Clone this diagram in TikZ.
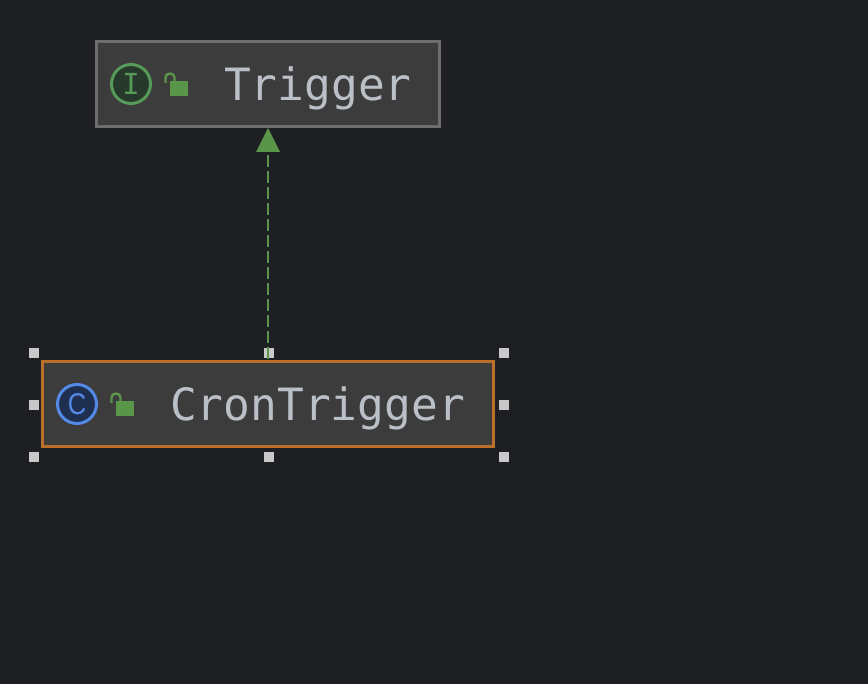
\documentclass[tikz,border=0pt]{standalone}
\usepackage{fontspec}
\setmonofont{DejaVu Sans Mono}
\setsansfont{Liberation Sans}
\usetikzlibrary{arrows.meta}
\definecolor{bgc}{HTML}{1E1F22}
\definecolor{boxc}{HTML}{3C3C3C}
\definecolor{greyb}{HTML}{6E6E6E}
\definecolor{orangeb}{HTML}{BC6F2D}
\definecolor{txt}{HTML}{BBBFC6}
\definecolor{grn}{HTML}{5A9649}
\definecolor{ifill}{HTML}{27392A}
\definecolor{ibord}{HTML}{559A58}
\definecolor{cfill}{HTML}{1F2F50}
\definecolor{cbord}{HTML}{548AE6}
\definecolor{handle}{HTML}{C8C8C8}
\tikzset{
  x=1pt,y=-1pt,
  classbox/.style={draw=greyb,fill=boxc,line width=3pt,inner sep=0pt,outer sep=0pt,minimum height=85pt,anchor=center},
  selbox/.style={classbox,draw=orangeb},
  label/.style={font=\ttfamily\fontsize{44.5pt}{44.5pt}\selectfont,text=txt,inner sep=0pt,anchor=base west},
  iconi/.style={circle,draw=ibord,fill=ifill,line width=3pt,minimum size=39pt,inner sep=0pt},
  iconc/.style={circle,draw=cbord,fill=cfill,line width=3pt,minimum size=39pt,inner sep=0pt},
  lockbody/.style={fill=grn,draw=none,minimum width=18pt,minimum height=15pt,inner sep=0pt},
  shackle/.style={draw=grn,line width=2.4pt},
  grip/.style={fill=handle,draw=none,minimum size=10pt,inner sep=0pt},
  realize/.style={draw=grn,line width=2pt,dash pattern=on 12pt off 4pt,shorten <=2.5pt,shorten >=1.5pt,
    -{Triangle[length=0.01pt,width=0.01pt,sep=3pt]Triangle[length=24pt,width=24pt,fill=grn,color=grn,line width=0pt]}},
}
\begin{document}
\begin{tikzpicture}
\useasboundingbox (0,0) rectangle (868,684);
\fill[bgc] (0,0) rectangle (868,684);
% handles
\node[grip] (h1) at (34,353) {};
\node[grip] (h2) at (269,353) {};
\node[grip] (h3) at (504,353) {};
\node[grip] (h4) at (34,405) {};
\node[grip] (h5) at (504,405) {};
\node[grip] (h6) at (34,457) {};
\node[grip] (h7) at (269,457) {};
\node[grip] (h8) at (504,457) {};
% boxes
\node[classbox,minimum width=343pt] (trigger) at (268,84) {};
\node[selbox,minimum width=451pt] (cron) at (268,404) {};
% connector
\draw[realize] (cron.north) -- (trigger.south);
% Trigger content
\node[iconi] (ii) at (131,84) {};
\node[font=\ttfamily\fontsize{29pt}{29pt}\selectfont,text=ibord,inner sep=0pt] (iit) at (131,84) {I};
\node[lockbody] (l1) at (179,88.5) {};
\draw[shackle] (165.5,83) -- (165.5,77.5) .. controls (165.5,72.2) and (174.5,72.2) .. (174.5,77.5) -- (174.5,81);
\node[label] (t1) at (224,101) {Trigger};
% CronTrigger content
\node[iconc] (ci) at (77,404) {};
\node[font=\sffamily\fontsize{30pt}{30pt}\selectfont,text=cbord,inner sep=0pt,xscale=.85] (cit) at (77,404) {C};
\node[lockbody] (l2) at (125,408.5) {};
\draw[shackle] (111.5,403) -- (111.5,397.5) .. controls (111.5,392.2) and (120.5,392.2) .. (120.5,397.5) -- (120.5,401);
\node[label] (t2) at (170,421) {CronTrigger};
\end{tikzpicture}
\end{document}
